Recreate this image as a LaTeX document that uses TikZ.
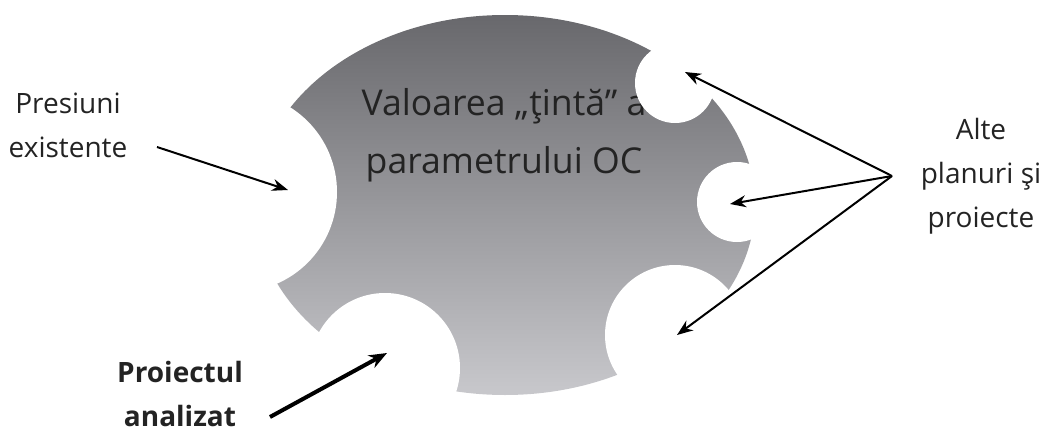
\documentclass[tikz,border=0pt]{standalone}
\usepackage{fontspec}
\setmainfont{Open Sans}
\usetikzlibrary{arrows.meta}

\definecolor{shadetop}{RGB}{104,104,108}
\definecolor{shadebot}{RGB}{200,200,204}
\definecolor{inktext}{RGB}{35,35,35}

\tikzset{
  label/.style={align=center, text=inktext, font=\fontsize{14}{22}\selectfont},
  arrow/.style={-{Stealth[length=8pt, width=6pt]}, line width=1pt},
  bite/.style={fill=white},
}

\begin{document}
\begin{tikzpicture}[x=0.5pt, y=0.5pt]
    \useasboundingbox (0, 0) rectangle (1041, 430);

    % shaded body
    \shade [top color=shadetop, bottom color=shadebot]
      (505, 225) ellipse [x radius=250, y radius=190];

    % target value
    \node [align=center, text=inktext, font=\fontsize{17.8}{29}\selectfont]
      (target) at (504, 295) {Valoarea „ţintă” a\\parametrului OC};

    % bites
    \fill [bite] (675, 347) circle [radius=40];
    \fill [bite] (737, 228) circle [radius=40];
    \fill [bite] (675,  95) circle [radius=70];
    \fill [bite] (385,  62) circle [radius=75];
    \fill [bite] (237, 238) circle [radius=100];

    % labels
    \node [label] (presiuni) at ( 68, 305) {Presiuni\\existente};
    \node [label] (alte)     at (981, 254) {Alte\\planuri şi\\proiecte};
    \node [label, font=\fontsize{14}{22}\selectfont\bfseries]
      (proiectul) at (180, 36) {Proiectul\\analizat};

    % arrow ends
    \coordinate (p-from) at (157, 283);
    \coordinate (p-to)   at (288, 240);
    \coordinate (hub)    at (892, 254);
    \coordinate (a-top)  at (685, 358);
    \coordinate (a-mid)  at (730, 226);
    \coordinate (a-bot)  at (677,  95);
    \coordinate (pa-from) at (270, 13);
    \coordinate (pa-to)   at (387, 77);

    % arrows
    \draw [arrow] (p-from) -- (p-to);
    \draw [arrow] (hub) -- (a-top);
    \draw [arrow] (hub) -- (a-mid);
    \draw [arrow] (hub) -- (a-bot);
    \draw [arrow, line width=2pt, -{Stealth[length=9pt, width=7pt]}]
      (pa-from) -- (pa-to);
\end{tikzpicture}
\end{document}
